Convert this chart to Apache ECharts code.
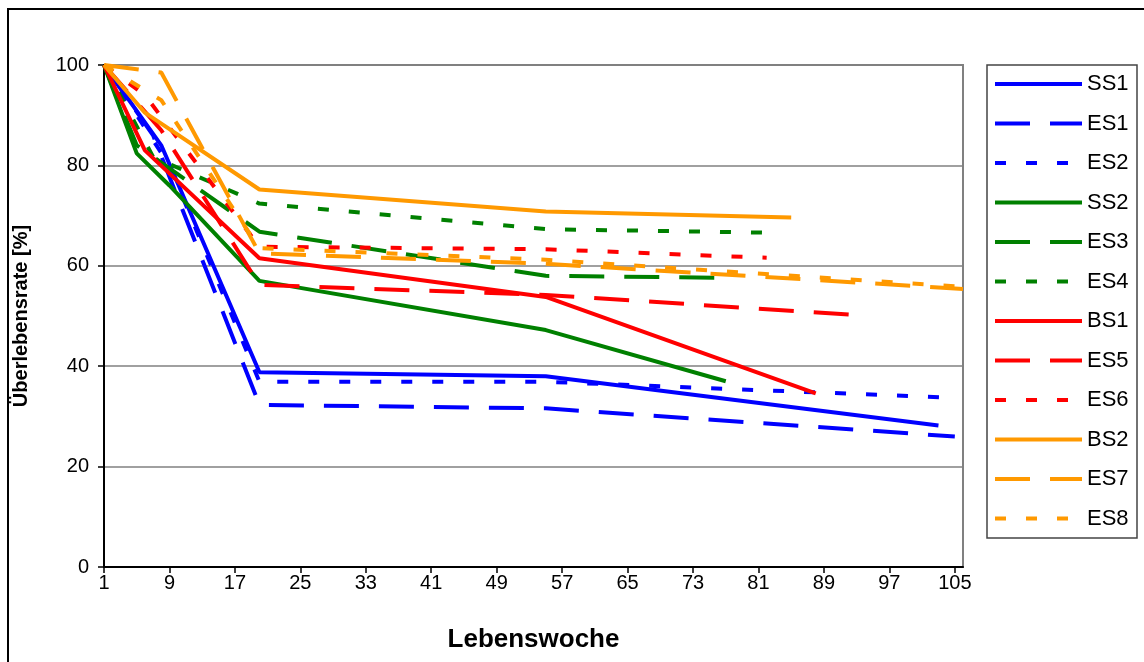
<!DOCTYPE html>
<html>
<head>
<meta charset="utf-8">
<script src="https://cdn.jsdelivr.net/npm/echarts@6/dist/echarts.min.js"></script>
<style>
  html, body { margin: 0; padding: 0; background: #fff; }
  #chart { width: 1144px; height: 662px; }
</style>
</head>
<body>
<div id="chart"></div>
<script>
// Lebenswochen 1..106 (category axis, label every 8th)
const weeks = []
for (let i = 1; i <= 106; i++) weeks.push(String(i))

// [Lebenswoche, Überlebensrate %]
const ss1 = [[1, 100], [8, 84], [20, 38.8], [55, 38], [103, 28.2]]
const es1 = [[1, 100], [7, 86], [20, 32.3], [55, 31.6], [105, 26]]
const es2 = [[1, 100], [9, 80], [20, 36.9], [55, 36.9], [105, 33.7]]
const ss2 = [[1, 100], [5, 82.4], [9, 76], [20, 57], [55, 47.2], [77, 37]]
const es3 = [[1, 100], [5, 84], [20, 66.8], [55, 58], [78, 57.6]]
const es4 = [[1, 100], [7, 81.7], [20, 72.4], [55, 67.3], [82, 66.6]]
const bs1 = [[1, 100], [6, 83], [20, 61.5], [55, 53.8], [88, 34.6]]
const es5 = [[1, 100], [8, 87], [20, 56.2], [55, 54.2], [93, 50.2]]
const es6 = [[1, 100], [6, 94], [20, 63.8], [55, 63.3], [82, 61.6]]
const bs2 = [[1, 100], [6, 90.5], [20, 75.2], [55, 70.8], [85, 69.6]]
const es7 = [[1, 100], [8, 98.5], [20, 62.5], [55, 60.4], [106, 55.4]]
const es8 = [[1, 100], [8, 93], [20, 63.5], [55, 61.2], [106, 55.8]]

const yTicks = [0, 20, 40, 60, 80, 100]

const BLUE = '#0000FF'
const GREEN = '#008000'
const RED = '#FF0000'
const ORANGE = '#FF9900'
const DASH = [35, 20]
const DOT = [11, 20]

const toRow = (pairs) => {
  const row = weeks.map(() => null)
  pairs.forEach(([w, v]) => { row[w - 1] = v })
  return row
}

const makeSeries = (name, pairs, color, type) => ({
  name: name,
  type: 'line',
  data: toRow(pairs),
  connectNulls: true,
  symbol: 'none',
  lineStyle: { color: color, width: 4, type: type },
  itemStyle: { color: color }
})

const FONT = 'Arial, "Liberation Sans", sans-serif'

const chart = echarts.init(document.getElementById('chart'))
const options = {
  animation: false,
  backgroundColor: '#fff',
  textStyle: { fontFamily: FONT },
  graphic: [
    {
      type: 'rect',
      shape: { x: 8, y: 9, width: 1300, height: 800 },
      style: { fill: 'none', stroke: '#000', lineWidth: 2 },
      silent: true
    },
    {
      type: 'rect',
      shape: { x: 987, y: 65, width: 150, height: 473 },
      style: { fill: 'none', stroke: '#444', lineWidth: 1.5 },
      silent: true
    }
  ],
  grid: {
    left: 104,
    right: 181,
    top: 65,
    bottom: 95,
    outerBoundsMode: 'none',
    containLabel: false,
    show: true,
    borderColor: '#808080',
    borderWidth: 2
  },
  legend: {
    orient: 'vertical',
    left: 993,
    top: 73,
    padding: 0,
    itemWidth: 87,
    itemHeight: 22,
    itemGap: 17.5,
    itemStyle: { opacity: 0, borderWidth: 0 },
    lineStyle: { width: 4 },
    textStyle: { fontSize: 22, color: '#000', fontFamily: FONT },
    data: ['SS1', 'ES1', 'ES2', 'SS2', 'ES3', 'ES4', 'BS1', 'ES5', 'ES6', 'BS2', 'ES7', 'ES8']
  },
  xAxis: {
    type: 'category',
    data: weeks,
    boundaryGap: false,
    name: 'Lebenswoche',
    nameLocation: 'middle',
    nameGap: 60,
    nameTextStyle: { fontSize: 26, fontWeight: 'bold', color: '#000', fontFamily: FONT },
    axisLine: { lineStyle: { color: '#000', width: 2 } },
    axisTick: { interval: 7, length: 6, lineStyle: { color: '#000', width: 1.5 } },
    axisLabel: { interval: 7, margin: 6, fontSize: 20, color: '#000', fontFamily: FONT },
    splitLine: { show: false }
  },
  yAxis: {
    type: 'value',
    min: yTicks[0],
    max: yTicks[yTicks.length - 1],
    interval: 20,
    name: 'Überlebensrate [%]',
    nameLocation: 'middle',
    nameGap: 73,
    nameTextStyle: { fontSize: 20, fontWeight: 'bold', color: '#000', fontFamily: FONT },
    axisLine: { show: true, lineStyle: { color: '#000', width: 2 } },
    axisTick: { show: true, length: 6, lineStyle: { color: '#000', width: 1.5 } },
    axisLabel: { margin: 15, fontSize: 20, color: '#000', fontFamily: FONT },
    splitLine: { lineStyle: { color: '#808080', width: 1.5 } }
  },
  series: [
    makeSeries('SS1', ss1, BLUE, 'solid'),
    makeSeries('ES1', es1, BLUE, DASH),
    makeSeries('ES2', es2, BLUE, DOT),
    makeSeries('SS2', ss2, GREEN, 'solid'),
    makeSeries('ES3', es3, GREEN, DASH),
    makeSeries('ES4', es4, GREEN, DOT),
    makeSeries('BS1', bs1, RED, 'solid'),
    makeSeries('ES5', es5, RED, DASH),
    makeSeries('ES6', es6, RED, DOT),
    makeSeries('BS2', bs2, ORANGE, 'solid'),
    makeSeries('ES7', es7, ORANGE, DASH),
    makeSeries('ES8', es8, ORANGE, DOT)
  ]
}
chart.setOption(options)
window.addEventListener('resize', function () {
  chart.resize()
})
</script>
</body>
</html>
